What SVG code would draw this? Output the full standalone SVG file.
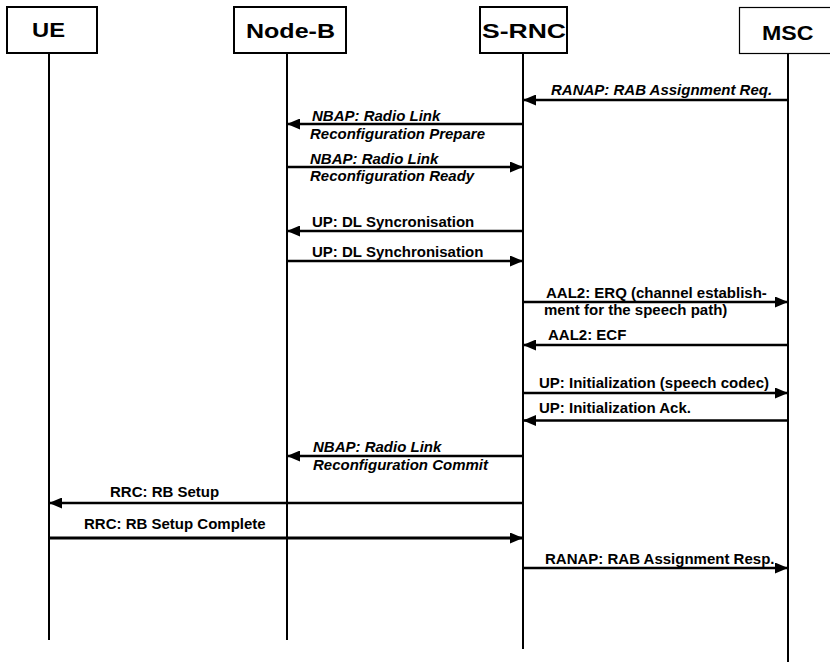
<svg xmlns="http://www.w3.org/2000/svg" width="830" height="662" viewBox="0 0 830 662">
  <style>
    .box { fill: #fff; stroke: #000; stroke-width: 2; }
    .box-thin { fill: #fff; stroke: #000; stroke-width: 1.2; }
    .life { stroke: #000; stroke-width: 2; }
    .head { font-family: "Liberation Sans", Arial, sans-serif; font-weight: bold; font-size: 20px; fill: #000; }
    .msg { stroke: #000; stroke-width: 2.5; fill: none; }
    .msg-heavy { stroke: #000; stroke-width: 3.2; fill: none; }
    .lbl { font-family: "Liberation Sans", Arial, sans-serif; font-weight: bold; font-size: 15px; fill: #000; }
    .it { font-style: italic; }
  </style>
  <defs>
    <marker id="arrow" markerUnits="userSpaceOnUse" markerWidth="14" markerHeight="11" refX="13" refY="5.5" orient="auto">
      <path d="M0,0 L13,5.5 L0,11 Z" fill="#000"/>
    </marker>
  </defs>

  <rect width="830" height="662" fill="#fff"/>

  <!-- participants: header box and lifeline -->
  <g id="node-ue">
    <rect class="box" x="7" y="7" width="90" height="46"/>
    <text class="head" x="32" y="37" textLength="33" lengthAdjust="spacingAndGlyphs">UE</text>
    <line class="life" x1="49" y1="53" x2="49" y2="640"/>
  </g>
  <g id="node-nodeb">
    <rect class="box" x="234" y="7" width="112" height="46"/>
    <text class="head" x="246" y="37.5" textLength="89" lengthAdjust="spacingAndGlyphs">Node-B</text>
    <line class="life" x1="287" y1="53" x2="287" y2="640"/>
  </g>
  <g id="node-srnc">
    <rect class="box" x="480" y="7" width="87" height="46"/>
    <text class="head" x="482" y="37.5" textLength="84" lengthAdjust="spacingAndGlyphs">S-RNC</text>
    <line class="life" x1="523" y1="53" x2="523" y2="649"/>
  </g>
  <g id="node-msc">
    <rect class="box-thin" x="739.5" y="7.5" width="100" height="46"/>
    <text class="head" x="762" y="40" textLength="51.5" lengthAdjust="spacingAndGlyphs">MSC</text>
    <line class="life" x1="788" y1="53" x2="788" y2="662"/>
  </g>

  <!-- messages -->
  <g id="connectors">
    <g id="m1">
      <line class="msg" x1="788" y1="100" x2="523" y2="100" marker-end="url(#arrow)"/>
      <text class="lbl it" x="551" y="95">RANAP: RAB Assignment Req.</text>
    </g>
    <g id="m2">
      <line class="msg" x1="523" y1="124" x2="287" y2="124" marker-end="url(#arrow)"/>
      <text class="lbl it" x="312" y="120.5">NBAP: Radio Link</text>
      <text class="lbl it" x="310" y="138.5">Reconfiguration Prepare</text>
    </g>
    <g id="m3">
      <line class="msg" x1="287" y1="167" x2="523" y2="167" marker-end="url(#arrow)"/>
      <text class="lbl it" x="310" y="164">NBAP: Radio Link</text>
      <text class="lbl it" x="310" y="181">Reconfiguration Ready</text>
    </g>
    <g id="m4">
      <line class="msg" x1="523" y1="231" x2="287" y2="231" marker-end="url(#arrow)"/>
      <text class="lbl" x="312" y="227">UP: DL Syncronisation</text>
    </g>
    <g id="m5">
      <line class="msg" x1="287" y1="261" x2="523" y2="261" marker-end="url(#arrow)"/>
      <text class="lbl" x="312" y="256.5">UP: DL Synchronisation</text>
    </g>
    <g id="m6">
      <line class="msg" x1="523" y1="302" x2="788" y2="302" marker-end="url(#arrow)"/>
      <text class="lbl" x="546" y="298">AAL2: ERQ (channel establish-</text>
      <text class="lbl" x="544" y="315">ment for the speech path)</text>
    </g>
    <g id="m7">
      <line class="msg" x1="788" y1="345" x2="523" y2="345" marker-end="url(#arrow)"/>
      <text class="lbl" x="548" y="340">AAL2: ECF</text>
    </g>
    <g id="m8">
      <line class="msg" x1="523" y1="393" x2="788" y2="393" marker-end="url(#arrow)"/>
      <text class="lbl" x="539" y="388">UP: Initialization (speech codec)</text>
    </g>
    <g id="m9">
      <line class="msg" x1="788" y1="420.5" x2="523" y2="420.5" marker-end="url(#arrow)"/>
      <text class="lbl" x="539" y="413">UP: Initialization Ack.</text>
    </g>
    <g id="m10">
      <line class="msg" x1="523" y1="456" x2="287" y2="456" marker-end="url(#arrow)"/>
      <text class="lbl it" x="313" y="452">NBAP: Radio Link</text>
      <text class="lbl it" x="313" y="470">Reconfiguration Commit</text>
    </g>
    <g id="m11">
      <line class="msg" x1="523" y1="503" x2="49" y2="503" marker-end="url(#arrow)"/>
      <text class="lbl" x="110" y="497">RRC: RB Setup</text>
    </g>
    <g id="m12">
      <line class="msg-heavy" x1="49" y1="538" x2="523" y2="538" marker-end="url(#arrow)"/>
      <text class="lbl" x="84" y="529">RRC: RB Setup Complete</text>
    </g>
    <g id="m13">
      <line class="msg" x1="523" y1="568" x2="788" y2="568" marker-end="url(#arrow)"/>
      <text class="lbl" x="545" y="564">RANAP: RAB Assignment Resp.</text>
    </g>
  </g>
</svg>
